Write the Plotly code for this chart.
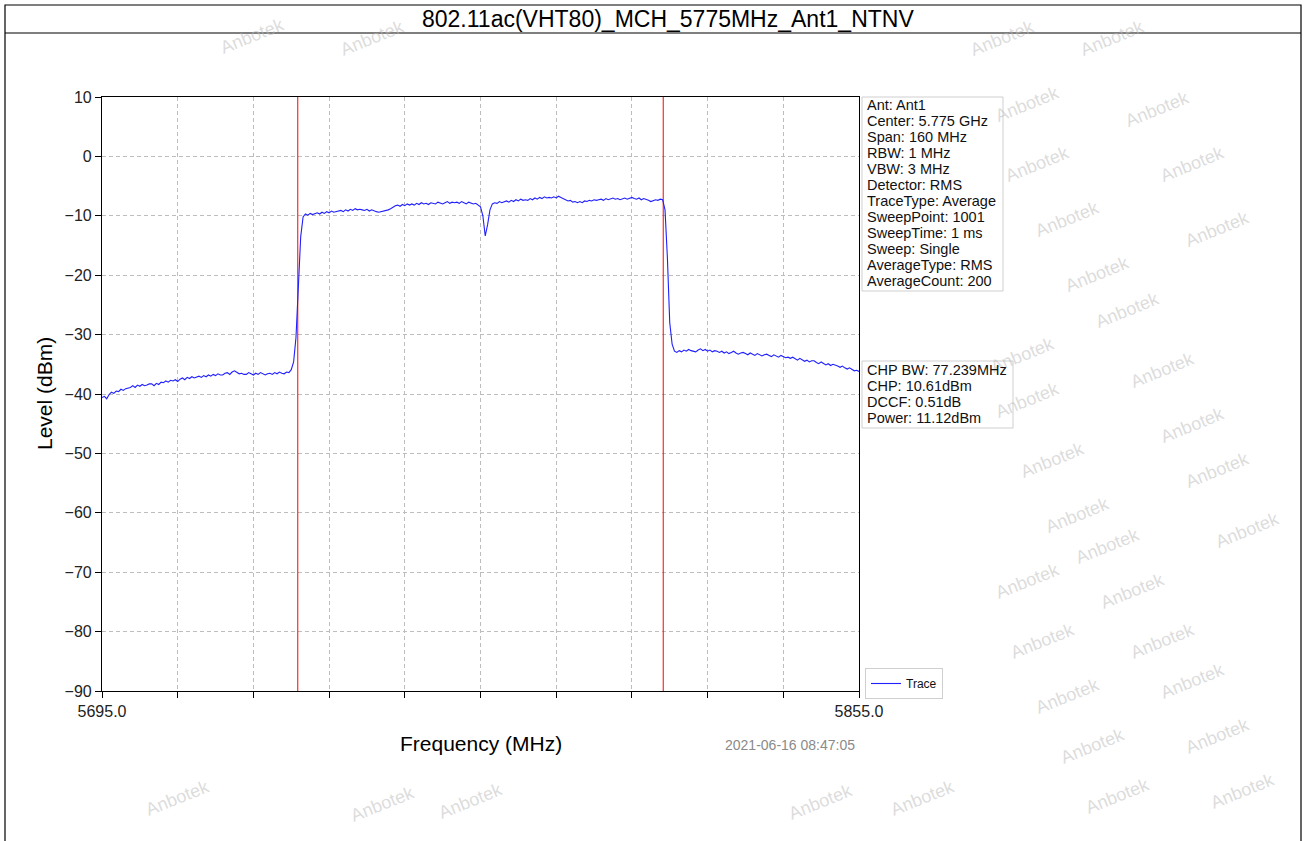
import numpy as np
import plotly.graph_objects as go

W, H = 1306, 841

# ---------------- data ----------------
start_freq = 5695.0
stop_freq = 5855.0
step_mhz = 0.5
center_freq = 5775.0
chp_bw = 77.239

levels = [
    -40.6, -40.4, -40.8, -40.1, -39.7, -39.9, -39.5, -39.6, -39.2, -39.4, -39.1,
    -39.0, -38.9, -38.6, -38.9, -38.5, -38.7, -38.4, -38.6, -38.5, -38.3,
    -38.3, -38.6, -38.2, -38.4, -38.0, -38.1, -37.8, -38.0, -37.7, -37.8,
    -37.6, -37.9, -37.5, -37.3, -37.6, -37.2, -37.4, -37.1, -37.3, -37.2,
    -37.0, -37.2, -36.9, -37.1, -36.8, -37.0, -36.7, -36.9, -36.6, -36.8,
    -36.8, -36.5, -36.4, -36.7, -36.3, -36.1, -36.4, -36.6, -36.5, -36.7,
    -36.7, -36.4, -36.6, -36.8, -36.5, -36.7, -36.4, -36.6, -36.8, -36.6,
    -36.5, -36.7, -36.4, -36.6, -36.3, -36.5, -36.6, -36.3, -36.4, -35.9,
    -34.6, -30.5, -22.0, -13.5, -10.2, -9.7, -9.9, -9.6, -9.8, -9.6,
    -9.5, -9.7, -9.4, -9.6, -9.3, -9.5, -9.2, -9.4, -9.3, -9.2,
    -9.1, -9.3, -9.0, -9.2, -8.9, -9.1, -8.8, -9.0, -8.9, -9.0,
    -9.1, -8.9, -9.2, -9.0, -9.2, -9.3, -9.4, -9.3, -9.2, -9.2,
    -9.0, -8.8, -8.5, -8.3, -8.2, -8.4, -8.1, -8.3, -8.0, -8.2,
    -8.0, -8.2, -7.9, -8.1, -7.8, -8.0, -7.9, -8.1, -7.8, -7.9,
    -8.0, -7.7, -7.9, -8.0, -7.8, -7.6, -7.9, -7.7, -7.8, -7.7,
    -7.9, -7.6, -7.8, -8.0, -7.7, -7.9, -8.0, -7.9, -8.2, -8.5,
    -10.0, -13.4, -11.5, -9.0, -8.0, -7.8, -7.9, -7.6, -7.8, -7.6,
    -7.5, -7.7, -7.4, -7.6, -7.3, -7.5, -7.2, -7.4, -7.3, -7.4,
    -7.1, -7.3, -7.0, -7.2, -6.9, -7.1, -6.8, -7.0, -6.9, -7.0,
    -6.8, -7.0, -6.7, -6.9, -7.1, -7.3, -7.5, -7.4, -7.7, -7.6,
    -7.8, -7.6, -7.8, -7.5, -7.6, -7.4, -7.5, -7.3, -7.4, -7.3,
    -7.2, -7.4, -7.1, -7.3, -7.2, -7.0, -7.2, -7.1, -7.3, -7.2,
    -7.0, -7.2, -7.1, -6.9, -7.1, -7.2, -7.0, -7.3, -7.1, -7.2,
    -7.4, -7.6, -7.5, -7.3, -7.4, -7.2, -7.3, -9.0, -17.0, -28.0,
    -31.6, -32.8, -33.0, -32.7, -32.9, -32.6, -32.8, -32.5, -32.7, -32.8,
    -32.9, -32.6, -32.4, -32.7, -32.5, -32.8, -32.6, -32.9, -32.7, -32.8,
    -33.0, -32.8, -33.1, -32.9, -33.2, -33.0, -32.8, -33.1, -33.3, -33.1,
    -33.0, -33.2, -33.4, -33.1, -33.3, -33.5, -33.2, -33.4, -33.6, -33.4,
    -33.3, -33.5, -33.7, -33.4, -33.6, -33.8, -33.5, -33.7, -33.9, -33.8,
    -34.0, -33.8, -34.1, -34.3, -34.0, -34.2, -34.5, -34.3, -34.6, -34.4,
    -34.4, -34.7, -34.9, -34.6, -34.8, -35.1, -34.9, -35.2, -35.0, -35.1,
    -35.3, -35.5, -35.3, -35.6, -35.8, -35.6, -35.9, -36.1, -36.0, -36.2,
]
freqs = start_freq + step_mhz * np.arange(len(levels))

y_ticks = [10, 0, -10, -20, -30, -40, -50, -60, -70, -80, -90]
x_tick_vals = [5695, 5711, 5727, 5743, 5759, 5775, 5791, 5807, 5823, 5839, 5855]
x_tick_text = ["5695.0", "", "", "", "", "", "", "", "", "", "5855.0"]

title_text = "802.11ac(VHT80)_MCH_5775MHz_Ant1_NTNV"
info_lines = [
    "Ant: Ant1", "Center: 5.775 GHz", "Span: 160 MHz", "RBW: 1 MHz", "VBW: 3 MHz",
    "Detector: RMS", "TraceType: Average", "SweepPoint: 1001", "SweepTime: 1 ms",
    "Sweep: Single", "AverageType: RMS", "AverageCount: 200",
]
chp_lines = ["CHP BW: 77.239MHz", "CHP: 10.61dBm", "DCCF: 0.51dB", "Power: 11.12dBm"]
timestamp = "2021-06-16 08:47:05"
watermark = "Anbotek"

# ---------------- layout helpers ----------------
def px(x):
    return x / W

def py(y):
    return 1 - y / H

FONT = "Liberation Sans, Arial, Helvetica, sans-serif"

left, right, top, bottom = 102, 859, 97, 691

fig = go.Figure()

marker_lo = center_freq - chp_bw / 2
marker_hi = center_freq + chp_bw / 2
for mx in (marker_lo, marker_hi):
    fig.add_trace(go.Scatter(x=[mx, mx], y=[-90, 10], mode="lines",
                             line=dict(color="#ff0000", width=1), showlegend=False,
                             hoverinfo="skip"))

fig.add_trace(go.Scatter(x=freqs, y=levels, mode="lines", name="Trace",
                         line=dict(color="#1f1fff", width=1.1)))

fig.update_xaxes(domain=[px(left), px(right)], range=[start_freq, stop_freq],
                 tickvals=x_tick_vals, ticktext=x_tick_text, automargin=False,
                 showline=True, linecolor="black", linewidth=1.2, mirror=True,
                 ticks="outside", ticklen=6, tickcolor="black", tickwidth=1.2,
                 showgrid=True, gridcolor="#bdbdbd", griddash="4px,3px", gridwidth=1,
                 zeroline=False, tickfont=dict(family=FONT, size=16, color="#222"),
                 title=None)
fig.update_yaxes(domain=[py(bottom), py(top)], range=[-90, 10], automargin=False,
                 tickvals=y_ticks, ticktext=[str(v).replace("-", "\u2212") for v in y_ticks],
                 showline=True, linecolor="black", linewidth=1.2, mirror=True,
                 ticks="outside", ticklen=6, tickcolor="black", tickwidth=1.2,
                 showgrid=True, gridcolor="#bdbdbd", griddash="4px,3px", gridwidth=1,
                 zeroline=False, tickfont=dict(family=FONT, size=16, color="#222"),
                 title=None)

annotations = []
# watermarks
wm_pos = [
    (1195, 85), (1075, 140), (1230, 140), (1105, 195), (1255, 205), (1135, 250),
    (1165, 310), (1200, 370), (1065, 400), (1230, 425), (1090, 460), (1255, 470),
    (1115, 515), (1145, 570), (1285, 530), (1170, 615), (1200, 665), (1080, 665),
    (1230, 705), (1105, 720), (1255, 760), (1130, 770), (1280, 815), (1155, 820),
    (140, 822), (470, 825), (820, 826), (345, 828), (960, 822), (1065, 80),
    (1060, 355), (1065, 605), (215, 12), (335, 14), (1040, 14), (1150, 14),
]
for (wx, wy) in wm_pos:
    annotations.append(dict(x=px(wx), y=py(wy), xref="paper", yref="paper",
                            text=watermark, showarrow=False, textangle=-22,
                            font=dict(family=FONT, size=18, color="rgba(185,185,185,0.5)")))

# title
annotations.append(dict(x=px(668), y=py(19), xref="paper", yref="paper", text=title_text,
                        showarrow=False, xanchor="center", yanchor="middle",
                        font=dict(family=FONT, size=23, color="black")))
# axis titles
annotations.append(dict(x=px(481), y=py(743), xref="paper", yref="paper",
                        text="Frequency (MHz)", showarrow=False, xanchor="center",
                        yanchor="middle", font=dict(family=FONT, size=21, color="black")))
annotations.append(dict(x=px(44), y=py(394), xref="paper", yref="paper",
                        text="Level (dBm)", showarrow=False, textangle=-90,
                        xanchor="center", yanchor="middle",
                        font=dict(family=FONT, size=21, color="black")))
annotations.append(dict(x=px(790), y=py(745), xref="paper", yref="paper",
                        text=timestamp, showarrow=False, xanchor="center",
                        yanchor="middle", font=dict(family=FONT, size=14, color="#8a8a8a")))

# info boxes
line_h = 16
for i, t in enumerate(info_lines):
    annotations.append(dict(x=px(865), y=py(105 + i * line_h), xref="paper", yref="paper",
                            text=t, showarrow=False, xanchor="left", yanchor="middle",
                            font=dict(family=FONT, size=14.5, color="#111")))
for i, t in enumerate(chp_lines):
    annotations.append(dict(x=px(865), y=py(370 + i * line_h), xref="paper", yref="paper",
                            text=t, showarrow=False, xanchor="left", yanchor="middle",
                            font=dict(family=FONT, size=14.5, color="#111")))

shapes = [
    # outer frame
    dict(type="rect", xref="paper", yref="paper", x0=px(5), x1=px(1301), y0=-0.02, y1=py(5),
         line=dict(color="black", width=1.2), layer="above"),
    dict(type="line", xref="paper", yref="paper", x0=px(5), x1=px(1301), y0=py(33), y1=py(33),
         line=dict(color="black", width=1.2), layer="above"),
    # info boxes
    dict(type="rect", xref="paper", yref="paper", x0=px(862), x1=px(1003), y0=py(291), y1=py(97),
         line=dict(color="#cfcfcf", width=1), fillcolor="white", layer="below"),
    dict(type="rect", xref="paper", yref="paper", x0=px(862), x1=px(1013), y0=py(428), y1=py(361),
         line=dict(color="#cfcfcf", width=1), fillcolor="white", layer="below"),
]

fig.update_layout(
    width=W, height=H, autosize=False,
    margin=dict(l=0, r=0, t=0, b=0, pad=0, autoexpand=False),
    paper_bgcolor="white", plot_bgcolor="white",
    font=dict(family=FONT, color="black"),
    showlegend=True,
    legend=dict(x=px(865), y=py(668), xanchor="left", yanchor="top",
                bgcolor="white", bordercolor="#cfcfcf", borderwidth=1,
                font=dict(family=FONT, size=12, color="#111"),
                itemwidth=30, tracegroupgap=0),
    annotations=annotations,
    shapes=shapes,
)

fig.write_html("out.html", config={"displayModeBar": False},
               post_script="document.body.style.margin='0';document.body.style.padding='0';")
